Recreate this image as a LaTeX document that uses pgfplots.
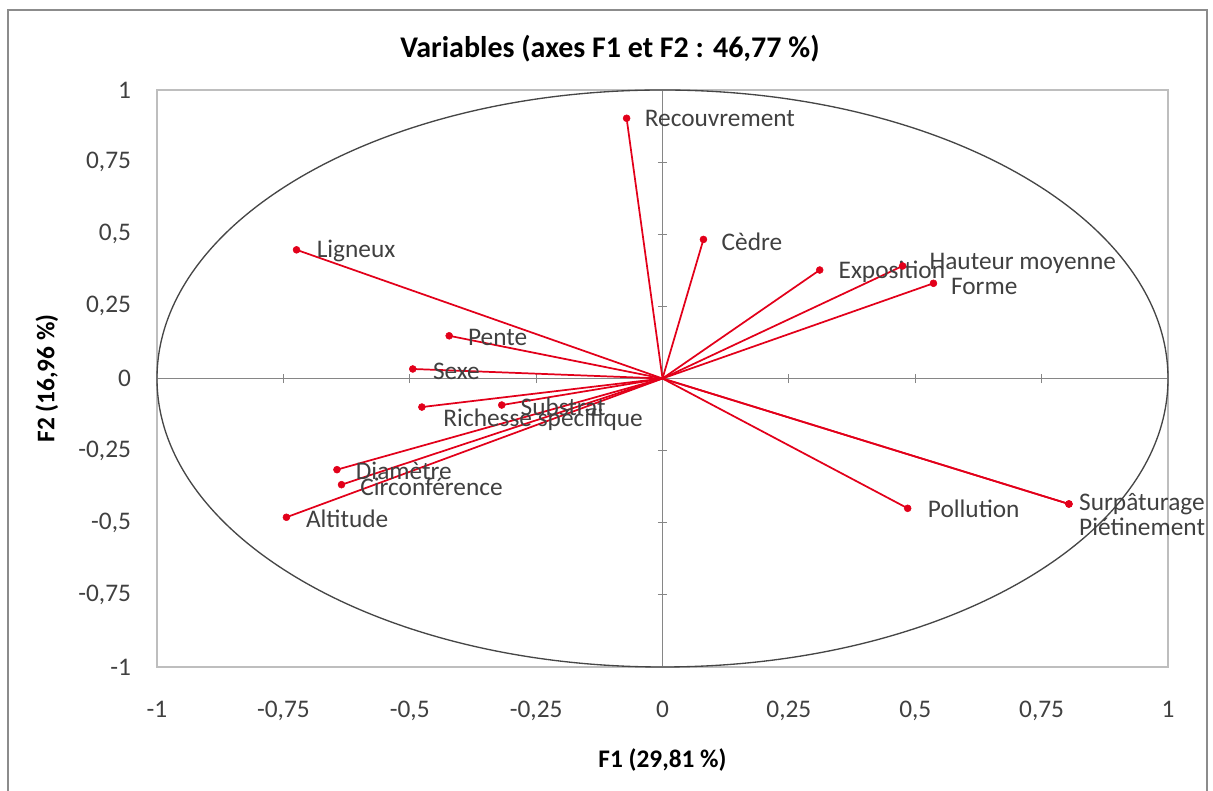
\documentclass[border=0pt]{standalone}
\usepackage{fontspec}
\setmainfont{Carlito}
\usepackage{pgfplots}
\usepackage{pgfplotstable}
\pgfplotsset{compat=1.18}

\definecolor{vecred}{RGB}{226,0,26}
\definecolor{txtgray}{RGB}{64,64,64}
\definecolor{boxgray}{RGB}{190,190,190}
\definecolor{axgray}{RGB}{134,134,134}
\definecolor{ellgray}{RGB}{70,70,70}
\definecolor{framegray}{RGB}{140,140,140}

\newcommand{\labfont}{\fontsize{19}{22}\selectfont}
\newcommand{\titfont}{\fontsize{22.5}{26}\selectfont\bfseries}

% loadings on F1, F2 ; dx, dy = label offset (pt)
\pgfplotstableread{
u      v      dx    dy     label
-0.071  0.902 13.5   0.0   Recouvrement
 0.081  0.482 13.5  -1.5   Cèdre
 0.311  0.376 14.0  -1.5   Exposition
 0.475  0.390 20.0   2.25  {Hauteur moyenne}
 0.536  0.330 13.0  -2.25  Forme
-0.724  0.446 15.0  -0.75  Ligneux
-0.422  0.148 14.0  -1.5   Pente
-0.494  0.033 15.0  -1.5   Sexe
-0.318 -0.092 14.0  -1.5   Substrat
-0.476 -0.099 16.0  -9.75  {Richesse spécifique}
-0.644 -0.316 14.0  -0.75  Diamètre
-0.635 -0.368 14.0  -1.5   Circonférence
-0.744 -0.481 14.5  -1.5   Altitude
 0.485 -0.450 15.0   0.0   Pollution
 0.804 -0.435  7.5   0.0   Surpâturage
 0.804 -0.435  7.5 -17.25  Piétinement
}\vars

\begin{document}
\begin{tikzpicture}
\useasboundingbox (-117.75pt,-93pt) rectangle (792pt,500.25pt);
\draw[framegray, line width=1.5pt] (-111.75pt,-130pt) rectangle (787.5pt,492.75pt);

% axes through the origin
\begin{axis}[
  at={(0,0)}, anchor=south west,
  scale only axis, width=758.25pt, height=432.75pt,
  xmin=-1, xmax=1, ymin=-1, ymax=1,
  axis lines=middle,
  axis line style={draw=axgray, line width=0.6pt, -},
  xtick={-1,-0.75,-0.5,-0.25,0,0.25,0.5,0.75,1},
  ytick={-1,-0.75,-0.5,-0.25,0,0.25,0.5,0.75,1},
  xticklabels={}, yticklabels={},
  tick align=center, major tick length=7pt,
  tick style={draw=axgray, line width=0.6pt},
]
\end{axis}

\begin{axis}[
  at={(0,0)}, anchor=south west,
  scale only axis, width=758.25pt, height=432.75pt,
  xmin=-1, xmax=1, ymin=-1, ymax=1,
  clip=false,
  axis line style={draw=boxgray, line width=0.8pt},
  xtick={-1,-0.75,-0.5,-0.25,0,0.25,0.5,0.75,1},
  ytick={-1,-0.75,-0.5,-0.25,0,0.25,0.5,0.75,1},
  xticklabels={-1,{-0,75},{-0,5},{-0,25},0,{0,25},{0,5},{0,75},1},
  yticklabels={-1,{-0,75},{-0,5},{-0,25},0,{0,25},{0,5},{0,75},1},
  major tick length=0pt, tick style={draw=none},
  tick label style={font=\labfont, text=txtgray},
  xticklabel style={yshift=-22pt},
  yticklabel style={xshift=-16pt},
  title={Variables (axes F1 et F2 : 46,77 \%)},
  title style={at={(axis description cs:0.448,1.058)}, anchor=center, font=\titfont},
  xlabel={F1 (29,81 \%)},
  xlabel style={at={(axis description cs:0.5,-0.1612)}, anchor=center, font=\labfont\bfseries},
  ylabel={F2 (16,96 \%)},
  ylabel style={at={(axis description cs:-0.1088,0.5)}, anchor=center, font=\labfont\bfseries},
]
\draw[ellgray, line width=1pt] (axis cs:0,0) ellipse [x radius=1, y radius=1];

\addplot[vecred, line width=1.3pt, no markers, -,
  quiver={u=\thisrow{u}, v=\thisrow{v}}]
  table[x expr=0, y expr=0] {\vars};

\addplot[only marks, mark=*, mark size=2.6pt, vecred,
  point meta=explicit symbolic,
  visualization depends on={\thisrow{dx} \as \dx},
  visualization depends on={\thisrow{dy} \as \dy},
  nodes near coords,
  nodes near coords style={anchor=west, inner sep=0pt, text=txtgray,
    font=\labfont, xshift=\dx, yshift=\dy}]
  table[x=u, y=v, meta=label] {\vars};
\end{axis}
\end{tikzpicture}
\end{document}
